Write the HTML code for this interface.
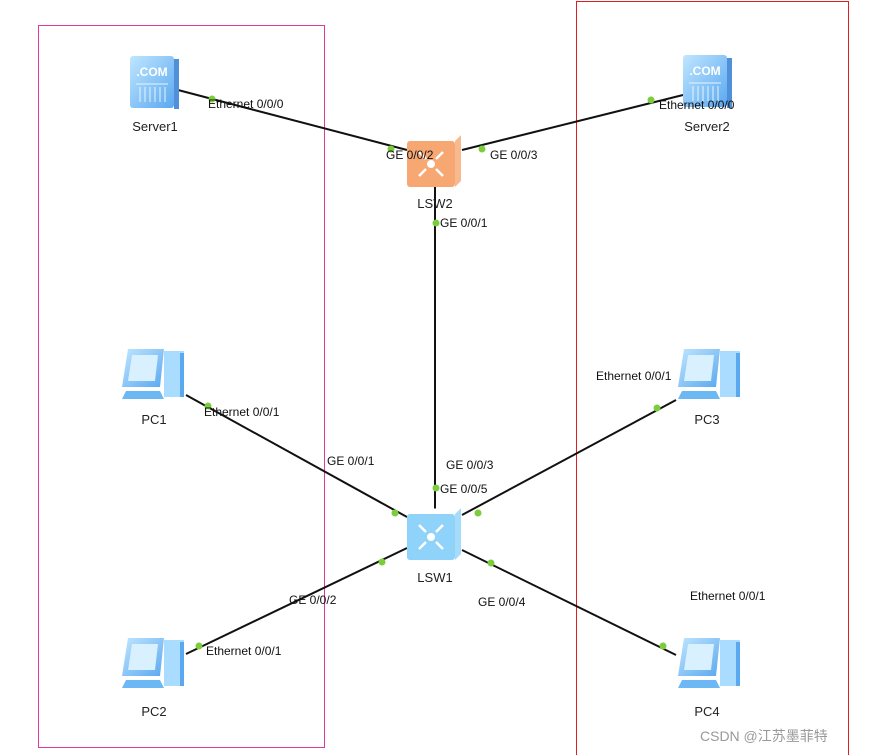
<!DOCTYPE html>
<html><head><meta charset="utf-8"><style>
html,body{margin:0;padding:0;background:#fff;width:887px;height:755px;overflow:hidden}
text{font-family:"Liberation Sans",Arial,sans-serif;font-size:12px;fill:#111}
.n{font-size:13px;fill:#222}
</style></head><body>
<svg width="887" height="755" viewBox="0 0 887 755" xmlns="http://www.w3.org/2000/svg">
<defs>
<linearGradient id="bl" x1="0" y1="0" x2="1" y2="1"><stop offset="0" stop-color="#bfe6ff"/><stop offset="1" stop-color="#5aa8f0"/></linearGradient>
<linearGradient id="or" x1="0" y1="0" x2="1" y2="1"><stop offset="0" stop-color="#ffd9b8"/><stop offset="1" stop-color="#f29a5c"/></linearGradient>
<g id="srv"><rect x="0" y="0" width="44" height="52" rx="3" fill="url(#bl)"/><rect x="44" y="3" width="5" height="50" fill="#4f90d8"/><text x="22" y="20" text-anchor="middle" style="font-size:12px;font-weight:bold;fill:#fff">.COM</text><g stroke="#e8f4ff" stroke-width="1"><line x1="6" y1="28" x2="38" y2="28"/><line x1="10" y1="31" x2="10" y2="46"/><line x1="15" y1="31" x2="15" y2="46"/><line x1="20" y1="31" x2="20" y2="46"/><line x1="25" y1="31" x2="25" y2="46"/><line x1="30" y1="31" x2="30" y2="46"/><line x1="35" y1="31" x2="35" y2="46"/></g></g>
<g id="pc"><polygon points="8,2 44,2 40,40 2,40" fill="url(#bl)"/><polygon points="12,8 38,8 35,34 8,34" fill="#d9f0ff"/><rect x="44" y="4" width="20" height="46" fill="#a9dcff"/><rect x="60" y="6" width="4" height="44" fill="#5aa8f0"/><polygon points="6,44 40,44 44,52 2,52" fill="#6bb8f5"/></g>
<g id="sw"><rect x="0" y="6" width="48" height="46" rx="3" fill="currentColor"/><polygon points="48,6 54,0 54,46 48,52" fill-opacity="0.8" fill="currentColor"/><polygon points="0,6 6,0 54,0 48,6" fill="#fff" fill-opacity="0.5"/><circle cx="24" cy="29" r="4" fill="#fff"/><g stroke="#fff" stroke-width="2.5" fill="none"><path d="M12 17 L19 24 M12 41 L19 34 M36 17 L29 24 M36 41 L29 34"/></g></g>
</defs>
<rect x="38.5" y="25.5" width="286" height="722" fill="none" stroke="#e0399c" stroke-width="1"/>
<rect x="576.5" y="1.5" width="272" height="760" fill="none" stroke="#e02020" stroke-width="1"/>
<g stroke="#111" stroke-width="2">
<line x1="178" y1="90" x2="407" y2="150"/>
<line x1="462" y1="150" x2="683" y2="95"/>
<line x1="435" y1="187" x2="435" y2="509"/>
<line x1="186" y1="395" x2="407" y2="517"/>
<line x1="462" y1="515" x2="676" y2="400"/>
<line x1="407" y1="548" x2="186" y2="654"/>
<line x1="462" y1="550" x2="676" y2="655"/>
</g>
<use href="#srv" x="130" y="56"/>
<use href="#srv" x="683" y="55"/>
<use href="#sw" x="407" y="135" style="color:#f7a872"/>
<use href="#sw" x="407" y="508" style="color:#8fd3fb"/>
<use href="#pc" x="120" y="347"/>
<use href="#pc" x="120" y="636"/>
<use href="#pc" x="676" y="347"/>
<use href="#pc" x="676" y="636"/>
<g fill="#7ccd3c">
<circle cx="212" cy="99" r="3.5"/><circle cx="391" cy="149" r="3.5"/><circle cx="482" cy="149" r="3.5"/><circle cx="651" cy="100" r="3.5"/><circle cx="436" cy="223" r="3.5"/><circle cx="208" cy="406" r="3.5"/><circle cx="395" cy="513" r="3.5"/><circle cx="436" cy="488" r="3.5"/><circle cx="478" cy="513" r="3.5"/><circle cx="657" cy="408" r="3.5"/><circle cx="382" cy="562" r="3.5"/><circle cx="491" cy="563" r="3.5"/><circle cx="199" cy="646" r="3.5"/><circle cx="663" cy="646" r="3.5"/>
</g>
<text class="n" x="155" y="131" text-anchor="middle">Server1</text>
<text class="n" x="707" y="131" text-anchor="middle">Server2</text>
<text class="n" x="435" y="208" text-anchor="middle">LSW2</text>
<text class="n" x="435" y="582" text-anchor="middle">LSW1</text>
<text class="n" x="154" y="424" text-anchor="middle">PC1</text>
<text class="n" x="154" y="716" text-anchor="middle">PC2</text>
<text class="n" x="707" y="424" text-anchor="middle">PC3</text>
<text class="n" x="707" y="716" text-anchor="middle">PC4</text>
<text x="208" y="108">Ethernet 0/0/0</text>
<text x="386" y="159">GE 0/0/2</text>
<text x="490" y="159">GE 0/0/3</text>
<text x="659" y="109">Ethernet 0/0/0</text>
<text x="440" y="227">GE 0/0/1</text>
<text x="204" y="416">Ethernet 0/0/1</text>
<text x="327" y="465">GE 0/0/1</text>
<text x="446" y="469">GE 0/0/3</text>
<text x="440" y="493">GE 0/0/5</text>
<text x="596" y="380">Ethernet 0/0/1</text>
<text x="289" y="604">GE 0/0/2</text>
<text x="478" y="606">GE 0/0/4</text>
<text x="690" y="600">Ethernet 0/0/1</text>
<text x="206" y="655">Ethernet 0/0/1</text>
<text x="700" y="741" style="font-family:'Liberation Sans','Noto Sans CJK SC',sans-serif;font-size:14px;fill:#999">CSDN @江苏墨菲特</text>
</svg>
</body></html>
